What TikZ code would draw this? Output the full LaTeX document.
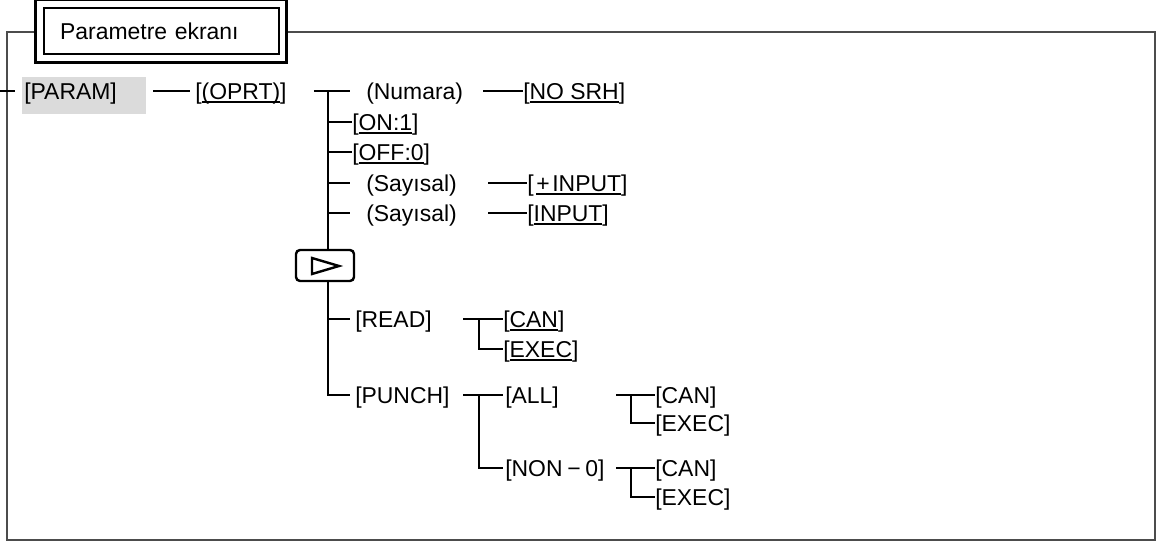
\documentclass[tikz,border=0pt]{standalone}
\usepackage{fontspec}
\setmainfont{Liberation Sans}
\usepackage{tikz}
\usetikzlibrary{positioning,calc}
\colorlet{Frame}{black!70}
\colorlet{Key}{black!14}
\newcommand\ulin[1]{\setbox0\hbox{#1}\rlap{\rule[-2.8pt]{\wd0}{1.5pt}}\box0}

\begin{document}
\begin{tikzpicture}[x=0.75pt,y=-0.75pt,every node/.style={font=\fontsize{17.2}{20}\selectfont},
  lbl/.style={inner sep=0pt,anchor=west,text height=12.3pt,text depth=0pt},
  conn/.style={line width=1.8pt}]
\useasboundingbox (0,0) rectangle (1158,542);
\draw[Frame,line width=1.8pt] (36,32) -| (7,540) -| (1155,32) -- (286,32);
\node[draw,line width=0.9pt,minimum width=176.25pt,minimum height=34.5pt,text width=152pt,align=left,inner xsep=12pt] (title) at (161.5,31) {Parametre ekranı};
\draw[line width=1.8pt] ([shift={(-8,8)}]title.south west) rectangle ([shift={(7,-8)}]title.north east);
% first level
\fill[Key] (22,77) rectangle (146,114);
\node[lbl] (param) at (24,91) {[PARAM]};
\node[lbl] (oprt) at (195,91) {[\ulin{(OPRT)}]};
\draw[conn] ([shift={(-24,0)}]param.west) -- ([shift={(-9,0)}]param.west);
\draw[conn] ([shift={(-42,0)}]oprt.west) -- ([shift={(-5,0)}]oprt.west);
% second level
\coordinate (tr) at (328,91);
\node[lbl] (numara) at (366,91) {(Numara)};
\node[lbl] (nosrh) at (523,91) {[\ulin{NO SRH}]};
\node[lbl] (on) at (352,122) {[\ulin{ON:1}]};
\node[lbl] (off) at (352,152) {[\ulin{OFF:0}]};
\node[lbl] (say1) at (366,183) {(Sayısal)};
\node[lbl] (pinput) at (527,183) {[\kern2pt\ulin{+\kern2pt INPUT}]};
\node[lbl] (say2) at (366,213) {(Sayısal)};
\node[lbl] (input) at (527,213) {[\ulin{INPUT}]};
\node[draw,line width=1.8pt,rounded corners=3pt,minimum width=43.5pt,minimum height=23.25pt] (nxt) at (325,265.5) {};
\draw[line width=1.8pt] ([shift={(-13,-7.5)}]nxt.center) -- ([shift={(14,0.5)}]nxt.center) -- ([shift={(-13,8.5)}]nxt.center) -- cycle;
\node[lbl] (read) at (355,319) {[READ]};
\node[lbl] (punch) at (355,395) {[PUNCH]};
\draw[conn] ([shift={(27,0)}]oprt.east) -- ([shift={(-16,0)}]numara.west);
\draw[conn] (tr) -- (tr |- nxt.north);
\draw[conn] (tr |- nxt.south) |- ([shift={(-5,0)}]punch.west);
\draw[conn] (tr |- on) -- (on.west);
\draw[conn] (tr |- off) -- (off.west);
\draw[conn] (tr |- say1) -- ([shift={(-16,0)}]say1.west);
\draw[conn] (tr |- say2) -- ([shift={(-16,0)}]say2.west);
\draw[conn] (tr |- read) -- ([shift={(-5,0)}]read.west);
\draw[conn] ([shift={(-40,0)}]nosrh.west) -- (nosrh.west);
\draw[conn] ([shift={(-39,0)}]pinput.west) -- (pinput.west);
\draw[conn] ([shift={(-39,0)}]input.west) -- (input.west);
% READ
\node[lbl] (rcan) at (503,319) {[\ulin{CAN}]};
\node[lbl] (rexec) at (503,349) {[\ulin{EXEC}]};
\draw[conn] ([shift={(-40,0)}]rcan.west) -- (rcan.west);
\draw[conn] ([shift={(-24,0)}]rcan.west) |- (rexec.west);
% PUNCH
\node[lbl] (all) at (505,395) {[ALL]};
\node[lbl] (non) at (505,468) {[NON\kern3.5pt−\kern3.5pt0]};
\draw[conn] ([shift={(-42,0)}]all.west) -- ([shift={(-2,0)}]all.west);
\draw[conn] ([shift={(-26,0)}]all.west) |- ([shift={(-2,0)}]non.west);
\node[lbl] (acan) at (655,395) {[CAN]};
\node[lbl] (aexec) at (655,423) {[EXEC]};
\draw[conn] ([shift={(-39,0)}]acan.west) -- (acan.west);
\draw[conn] ([shift={(-24,0)}]acan.west) |- (aexec.west);
\node[lbl] (ncan) at (655,468) {[CAN]};
\node[lbl] (nexec) at (655,497) {[EXEC]};
\draw[conn] ([shift={(-39,0)}]ncan.west) -- (ncan.west);
\draw[conn] ([shift={(-24,0)}]ncan.west) |- (nexec.west);
\end{tikzpicture}
\end{document}
